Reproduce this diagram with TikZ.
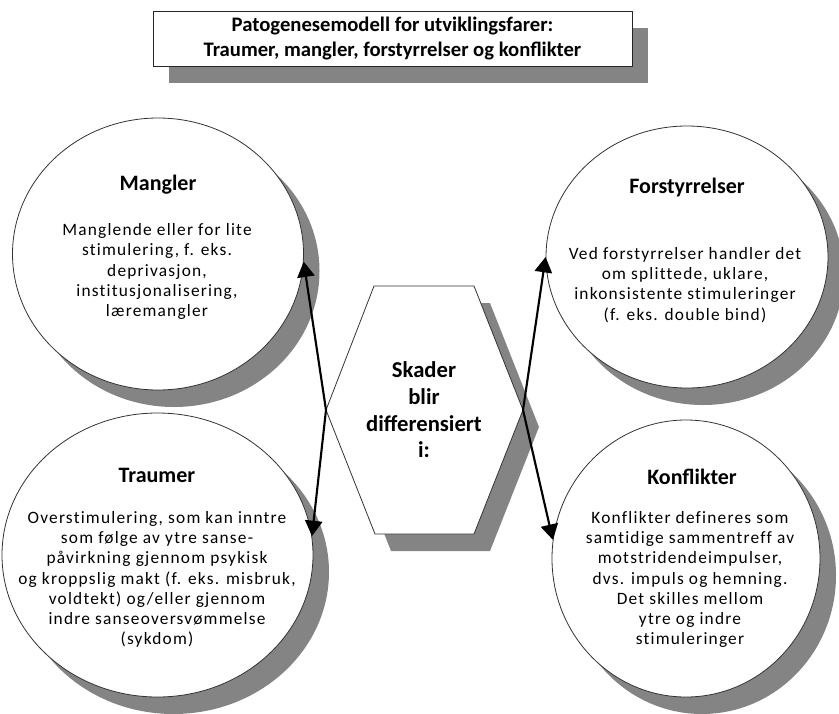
\documentclass[tikz,border=0pt]{standalone}
\usepackage{fontspec}
\setmainfont{Carlito}
\newfontfamily\spacedfont[LetterSpace=7,Ligatures=NoCommon]{Carlito}
\usetikzlibrary{arrows.meta,shapes.geometric,shadows,positioning}
\definecolor{shadowgray}{HTML}{848484}

\begin{document}
\begin{tikzpicture}[x=0.75pt,y=-0.75pt,
	shadebox/.style={drop shadow={shadow xshift=12pt,shadow yshift=-12.75pt,fill=shadowgray,opacity=1}},
	titlebox/.style={draw=black!85,line width=0.7pt,fill=white,shadebox,minimum width=359.25pt,minimum height=41.25pt,align=center,font=\bfseries\fontsize{15.5}{19}\selectfont},
	bubble/.style={ellipse,draw=black!80,line width=0.6pt,fill=white,shadebox,inner sep=0pt},
	heading/.style={font=\bfseries\fontsize{16.5}{20}\selectfont},
	bodytext/.style={align=center,inner sep=0pt,font=\spacedfont\fontsize{13}{15.2}\selectfont},
	hextext/.style={align=center,font=\bfseries\fontsize{17}{20}\selectfont},
	pil/.style={-{Triangle[length=11.5pt,width=13pt]},line width=1.6pt}]
			\useasboundingbox (0,0) rectangle (839,714);
			
			% title box
			\node[titlebox] (title) at (392.5,38.5) {Patogenesemodell for utviklingsfarer:\\Traumer, mangler, forstyrrelser og konflikter};
			
			% circles
			\node[bubble,minimum width=218.25pt,minimum height=204pt] (mangler) at (158,254) {};
			\node[bubble,minimum width=233.25pt,minimum height=213pt] (traumer) at (157.5,555) {};
			\node[bubble,minimum width=211.5pt,minimum height=196.5pt] (forstyrr) at (687,257) {};
			\node[bubble,minimum width=201pt,minimum height=207.75pt] (konflikt) at (686,558.5) {};
			
			% hexagon in the middle
			\draw[draw=black!80,line width=0.6pt,fill=white,shadebox] (374,286) -- (474,286) -- (523,410) -- (474,534) -- (375,534) -- (326,410) -- cycle;
			\coordinate (hexL) at (326,410);
			\coordinate (hexR) at (523,410);
			\node[hextext] (skader) at (424,410) {Skader\\blir\\differensiert\\i:};
			
			% headings
			\node[heading] (manglerhead) at (158,185) {Mangler};
			\node[heading] (traumerhead) at (157,475) {Traumer};
			\node[heading] (forstyrrhead) at (687,188) {Forstyrrelser};
			\node[heading] (konflikthead) at (692,477) {Konflikter};
			
			% texts
			\node[bodytext] (manglertext) at (157,271.5) {Manglende eller for lite\\stimulering, f. eks.\\deprivasjon,\\institusjonalisering,\\læremangler};
			\node[bodytext] (traumertext) at (157,579.5) {Overstimulering, som kan inntre\\som følge av ytre sanse-\\påvirkning gjennom psykisk\\og kroppslig makt (f. eks. misbruk,\\voldtekt) og/eller gjennom\\indre sanseoversvømmelse\\(sykdom)};
			\node[bodytext] (forstyrrtext) at (685,285) {Ved forstyrrelser handler det\\om splittede, uklare,\\inkonsistente stimuleringer\\(f. eks. double bind)};
			\node[bodytext] (konflikttext) at (690,579.5) {Konflikter defineres som\\samtidige sammentreff av\\motstridendeimpulser,\\dvs. impuls og hemning.\\Det skilles mellom\\ytre og indre\\stimuleringer};
			
			% arrows
			\draw[pil] (hexL) -- (mangler.-3);
			\draw[pil] (hexL) -- (traumer.7);
			\draw[pil] (hexR) -- (forstyrr.180);
			\draw[pil] (hexR) -- (konflikt.172);
		\end{tikzpicture}
\end{document}
